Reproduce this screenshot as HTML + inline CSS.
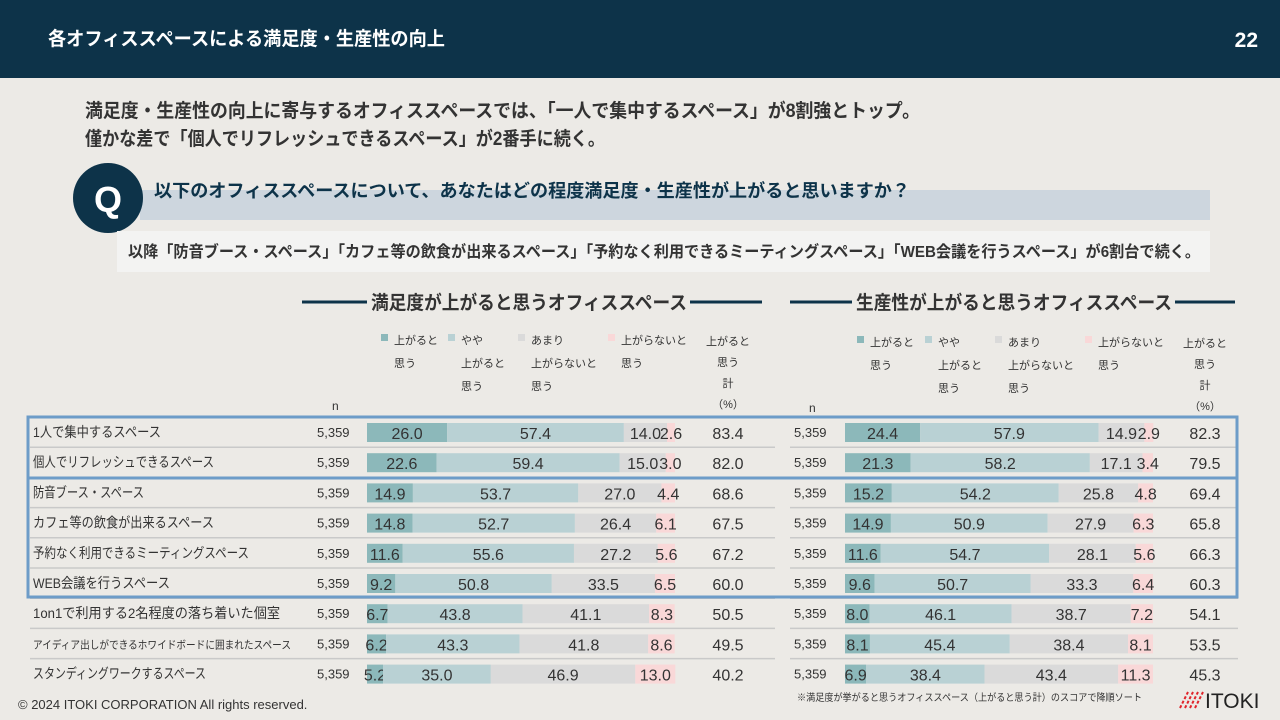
<!DOCTYPE html>
<html><head><meta charset="utf-8">
<style>
body{margin:0;width:1280px;height:720px;overflow:hidden;background:#eceae6;font-family:"Liberation Sans","Noto Sans CJK JP",sans-serif;}
svg{position:absolute;left:0;top:0}
</style></head>
<body>
<svg id="s" width="1280" height="720" xmlns="http://www.w3.org/2000/svg" font-family="'Liberation Sans','Noto Sans CJK JP',sans-serif">
<rect x="0" y="0" width="1280" height="78" fill="#0d3349"/>
<text x="48" y="45" fill="#fff" font-size="19" font-weight="bold" textLength="397" lengthAdjust="spacingAndGlyphs">各オフィススペースによる満足度・生産性の向上</text>
<text x="1258" y="47" fill="#fff" font-size="21" font-weight="bold" text-anchor="end">22</text>
<text x="85" y="117" fill="#333" font-size="19" font-weight="bold" textLength="835" lengthAdjust="spacingAndGlyphs">満足度・生産性の向上に寄与するオフィススペースでは、「一人で集中するスペース」が8割強とトップ。</text>
<text x="85" y="145" fill="#333" font-size="19" font-weight="bold" textLength="520" lengthAdjust="spacingAndGlyphs">僅かな差で「個人でリフレッシュできるスペース」が2番手に続く。</text>
<rect x="140" y="190" width="1070" height="30" fill="#cdd6de"/>
<circle cx="108" cy="198" r="35" fill="#0d3349"/>
<text x="108" y="212" fill="#fff" font-size="36" font-weight="bold" text-anchor="middle">Q</text>
<text x="154" y="197" fill="#0d3349" font-size="18" font-weight="bold" textLength="756" lengthAdjust="spacingAndGlyphs">以下のオフィススペースについて、あなたはどの程度満足度・生産性が上がると思いますか？</text>
<rect x="117" y="231" width="1093" height="41" fill="#f3f3f2"/>
<text x="128" y="257" fill="#333" font-size="16" font-weight="bold" textLength="1072" lengthAdjust="spacingAndGlyphs">以降「防音ブース・スペース」「カフェ等の飲食が出来るスペース」「予約なく利用できるミーティングスペース」「WEB会議を行うスペース」が6割台で続く。</text>
<g>
<line x1="302" y1="302" x2="367" y2="302" stroke="#0d3349" stroke-width="3"/>
<line x1="690" y1="302" x2="762" y2="302" stroke="#0d3349" stroke-width="3"/>
<text x="371" y="309" fill="#333" font-size="19" font-weight="bold" textLength="316" lengthAdjust="spacingAndGlyphs">満足度が上がると思うオフィススペース</text>
</g>
<g>
<line x1="790" y1="302" x2="852" y2="302" stroke="#0d3349" stroke-width="3"/>
<line x1="1175" y1="302" x2="1235" y2="302" stroke="#0d3349" stroke-width="3"/>
<text x="856" y="309" fill="#333" font-size="19" font-weight="bold" textLength="316" lengthAdjust="spacingAndGlyphs">生産性が上がると思うオフィススペース</text>
</g>
<g id="charts"></g>
<rect x="28" y="417" width="1209" height="180" fill="none" stroke="#6d9cc8" stroke-width="3"/>
<line x1="28" y1="478" x2="1237" y2="478" stroke="#6d9cc8" stroke-width="3"/>
<text x="18" y="709" fill="#333" font-size="13">© 2024 ITOKI CORPORATION All rights reserved.</text>
<text x="797" y="701" fill="#333" font-size="10" textLength="345" lengthAdjust="spacingAndGlyphs">※満足度が挙がると思うオフィススペース（上がると思う計）のスコアで降順ソート</text>
<g>
<g stroke="#e0242b" stroke-width="2" stroke-dasharray="3 2">
<line x1="1180" y1="708" x2="1188" y2="692"/><line x1="1185" y1="708" x2="1193" y2="692"/><line x1="1190" y1="708" x2="1198" y2="692"/><line x1="1195" y1="708" x2="1203" y2="692"/>
</g>
<text x="1205" y="708" fill="#222" font-size="21">ITOKI</text>
</g>
</svg>
<script>
const categories=["1人で集中するスペース","個人でリフレッシュできるスペース","防音ブース・スペース","カフェ等の飲食が出来るスペース","予約なく利用できるミーティングスペース","WEB会議を行うスペース","1on1で利用する2名程度の落ち着いた個室","アイディア出しができるホワイドボードに囲まれたスペース","スタンディングワークするスペース"];
const labelWidths=[128,181,111,181,216,137,247,258,173];
const nValues=["5,359","5,359","5,359","5,359","5,359","5,359","5,359","5,359","5,359"];
const satAgree=[26.0,22.6,14.9,14.8,11.6,9.2,6.7,6.2,5.2];
const satSomewhat=[57.4,59.4,53.7,52.7,55.6,50.8,43.8,43.3,35.0];
const satNotMuch=[14.0,15.0,27.0,26.4,27.2,33.5,41.1,41.8,46.9];
const satNot=[2.6,3.0,4.4,6.1,5.6,6.5,8.3,8.6,13.0];
const satTotal=["83.4","82.0","68.6","67.5","67.2","60.0","50.5","49.5","40.2"];
const prodAgree=[24.4,21.3,15.2,14.9,11.6,9.6,8.0,8.1,6.9];
const prodSomewhat=[57.9,58.2,54.2,50.9,54.7,50.7,46.1,45.4,38.4];
const prodNotMuch=[14.9,17.1,25.8,27.9,28.1,33.3,38.7,38.4,43.4];
const prodNot=[2.9,3.4,4.8,6.3,5.6,6.4,7.2,8.1,11.3];
const prodTotal=["82.3","79.5","69.4","65.8","66.3","60.3","54.1","53.5","45.3"];
const legendLabels=[["上がると","思う"],["やや","上がると","思う"],["あまり","上がらないと","思う"],["上がらないと","思う"]];
const colors=["#8cb8ba","#b9d1d4","#dadada","#f9d8d8"];
const NS="http://www.w3.org/2000/svg";
const G=document.getElementById('charts');
function el(t,a,p){const e=document.createElementNS(NS,t);for(const k in a)e.setAttribute(k,a[k]);(p||G).appendChild(e);return e;}
function txt(x,y,s,a,p){const e=el('text',Object.assign({x:x,y:y,fill:'#333','font-size':14},a||{}),p);e.textContent=s;return e;}
const rowY=i=>432+i*30.2;
function chart(cfg){
 const g=el('g',{});
 
 
 const xs=v=>v*3.08;
 cfg.legendX.forEach((lx,k)=>{
  el('rect',{x:lx-13,y:cfg.legY-10,width:7,height:7,fill:colors[k]},g);
  legendLabels[k].forEach((l,j)=>txt(lx,cfg.legY+j*23,l,{'font-size':11},g));
 });
 ["上がると","思う","計","（%）"].forEach((l,j)=>txt(cfg.totX,cfg.legY+1+j*21,l,{'font-size':11,'text-anchor':'middle'},g));
 txt(cfg.nX+15,cfg.legY+66,"n",{'font-size':12},g);
 const series=[cfg.a,cfg.b,cfg.c,cfg.d];
 categories.forEach((c,i)=>{
  const y=rowY(i);
  if(i>0) el('line',{x1:cfg.lineX1,x2:cfg.lineX2,y1:y-15,y2:y-15,stroke:'#c9c9c9','stroke-width':1.5},g);
  if(cfg.labels){const t=txt(33,y+5,c,{'font-size':i==7?11:14,textLength:labelWidths[i],lengthAdjust:'spacingAndGlyphs'},g);}
  txt(cfg.nX,y+5,nValues[i],{'font-size':13},g);
  let x=cfg.x0;
  series.forEach((s,k)=>{
   const w=xs(s[i]);
   const r=el('rect',{x:x,y:y-9,width:w,height:19,fill:colors[k]},g);
   
   
   txt(x+w/2,y+7,s[i].toFixed(1),{'font-size':16,'text-anchor':'middle'},g);
   x+=w;
  });
  txt(cfg.totX,y+7,cfg.tot[i],{'font-size':16,'text-anchor':'middle'},g);
 });
}
chart({name:'satisfaction-chart',labels:true,x0:367,nX:317,totX:728,legY:344,legendX:[394,461,531,621],lineX1:30,lineX2:775,a:satAgree,b:satSomewhat,c:satNotMuch,d:satNot,tot:satTotal});
chart({name:'productivity-chart',labels:false,x0:845,nX:794,totX:1205,legY:346,legendX:[870,938,1008,1098],lineX1:790,lineX2:1238,a:prodAgree,b:prodSomewhat,c:prodNotMuch,d:prodNot,tot:prodTotal});
</script>
</body></html>
